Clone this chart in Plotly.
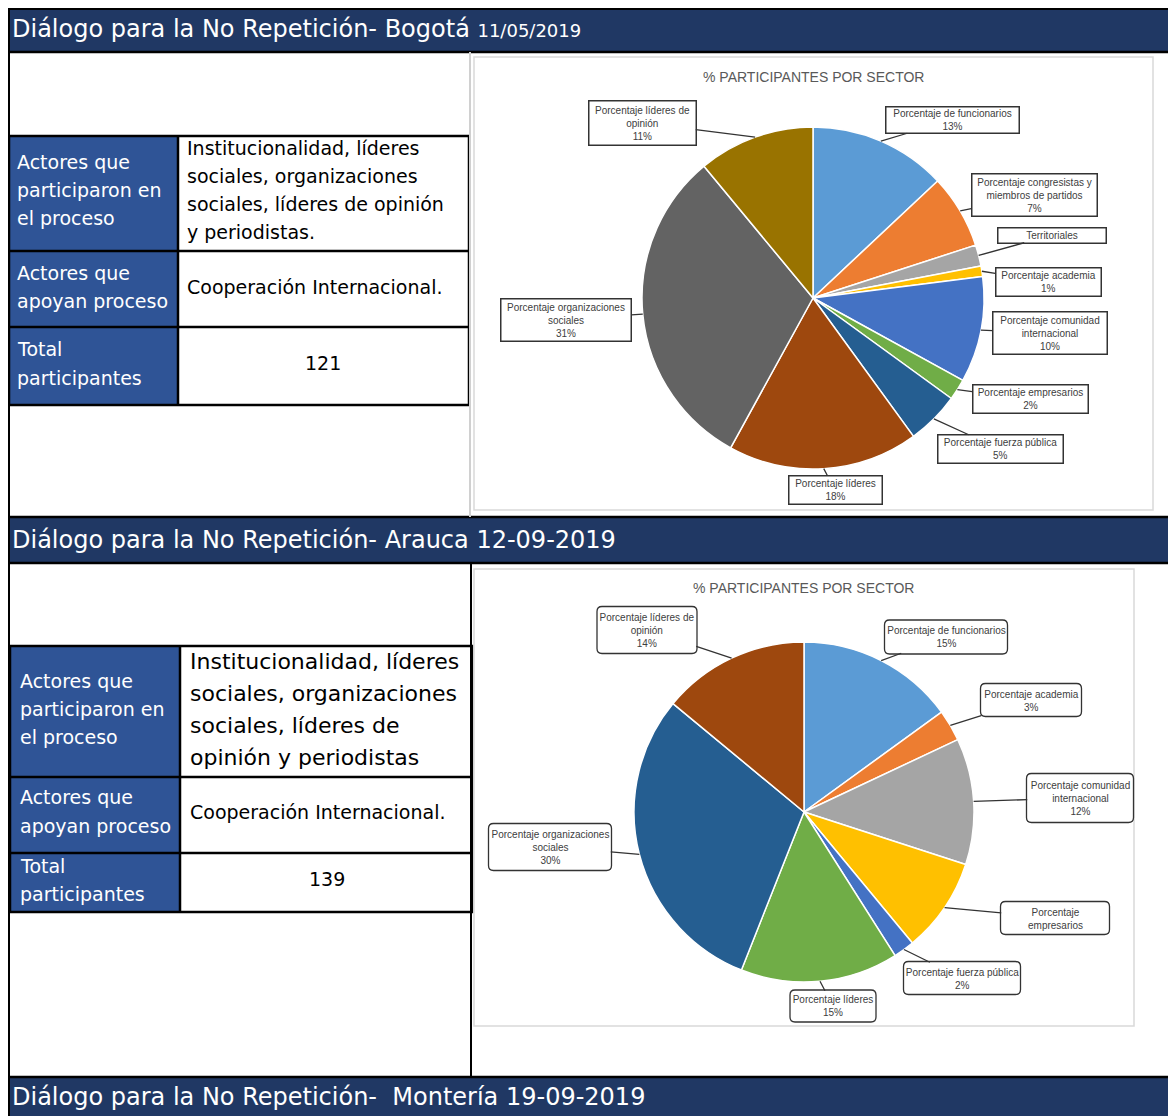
import numpy as np
import plotly.graph_objects as go

W, H = 1176, 1116
OFF = 8  # the page body margin; coordinates below are page pixels
FW, FH = W - OFF, H - OFF

# ---------------- data ----------------
headers = [
    "Diálogo para la No Repetición- Bogotá <span style='font-size:18px'>11/05/2019</span>",
    "Diálogo para la No Repetición- Arauca 12-09-2019",
    "Diálogo para la No Repetición-  Montería 19-09-2019",
]

row_titles = [["Actores que", "participaron en", "el proceso"],
              ["Actores que", "apoyan proceso"],
              ["Total", "participantes"]]
bog_actores = ["Institucionalidad, líderes", "sociales, organizaciones",
               "sociales, líderes de opinión", "y periodistas."]
ara_actores = ["Institucionalidad, líderes", "sociales, organizaciones",
               "sociales, líderes de", "opinión y periodistas"]
apoyo = "Cooperación Internacional."
bog_total = 121
ara_total = 139

chart_title = "% PARTICIPANTES POR SECTOR"

bog_labels = ["Porcentaje de funcionarios", "Porcentaje congresistas y<br>miembros de partidos",
              "Territoriales", "Porcentaje academia", "Porcentaje comunidad<br>internacional",
              "Porcentaje empresarios", "Porcentaje fuerza pública", "Porcentaje líderes",
              "Porcentaje organizaciones<br>sociales", "Porcentaje líderes de<br>opinión"]
bog_values = [13, 7, 2, 1, 10, 2, 5, 18, 31, 11]
bog_show_pct = [True, True, False, True, True, True, True, True, True, True]
bog_colors = ["#5B9BD5", "#ED7D31", "#A5A5A5", "#FFC000", "#4472C4",
              "#70AD47", "#255E91", "#9E480E", "#636363", "#997300"]

ara_labels = ["Porcentaje de funcionarios", "Porcentaje academia",
              "Porcentaje comunidad<br>internacional", "Porcentaje<br>empresarios",
              "Porcentaje fuerza pública", "Porcentaje líderes",
              "Porcentaje organizaciones<br>sociales", "Porcentaje líderes de<br>opinión"]
ara_values = [15, 3, 12, 9, 2, 15, 30, 14]
ara_show_pct = [True, True, True, False, True, True, True, True]
ara_colors = ["#5B9BD5", "#ED7D31", "#A5A5A5", "#FFC000", "#4472C4",
              "#70AD47", "#255E91", "#9E480E"]

# ---------------- layout constants (pixels) ----------------
NAVY = "#203864"
BLUE = "#2F5496"
TABLE_FONT = "DejaVu Sans, Verdana, sans-serif"
CHART_FONT = "Liberation Sans, Arial, sans-serif"

# callout boxes: center x, center y, width, height
bog_boxes = [(952, 120, 135, 28), (1034, 195, 127, 44), (1052, 235, 110, 17),
             (1048, 282, 107, 30), (1050, 333, 116, 44), (1030, 399, 117, 30),
             (1000, 449, 127, 30), (835, 490, 95, 30), (566, 320, 132, 44),
             (642, 123, 109, 46)]
ara_boxes = [(946, 637, 123, 34), (1031, 700, 101, 33), (1080, 798, 107, 49),
             (1055, 918, 109, 33), (962, 978, 117, 33), (833, 1006, 86, 32),
             (550, 847, 123, 47), (647, 630, 100, 47)]

fig = go.Figure()

# invisible trace so the pixel-space cartesian axes exist
fig.add_trace(go.Scatter(x=[], y=[], showlegend=False, hoverinfo="skip"))


def add_pie(values, colors, cx, cy, r):
    fig.add_trace(go.Pie(
        values=values, sort=False, direction="clockwise", rotation=0,
        marker=dict(colors=colors, line=dict(color="white", width=1.5)),
        textinfo="none", hoverinfo="skip", showlegend=False,
        domain=dict(x=[(cx - r - OFF) / FW, (cx + r - OFF) / FW],
                    y=[1 - (cy + r - OFF) / FH, 1 - (cy - r - OFF) / FH]),
    ))


def add_callouts(labels, values, show_pct, boxes, cx, cy, r, rounded):
    v = np.array(values, float)
    theta = (np.cumsum(v) - v / 2) / v.sum() * 2 * np.pi
    xs = cx + r * np.sin(theta)
    ys = cy - r * np.cos(theta)
    for lab, val, sp, (bx, by, bw, bh), x0, y0 in zip(labels, values, show_pct, boxes, xs, ys):
        txt = f"{lab}<br>{val}%" if sp else lab
        if rounded:
            x1, y1, x2, y2, k = bx - bw / 2, by - bh / 2, bx + bw / 2, by + bh / 2, 5
            fig.add_shape(type="path", xref="x", yref="y", fillcolor="white",
                          line=dict(color="#333333", width=1.3),
                          path=(f"M {x1+k},{y1} L {x2-k},{y1} Q {x2},{y1} {x2},{y1+k} "
                                f"L {x2},{y2-k} Q {x2},{y2} {x2-k},{y2} L {x1+k},{y2} "
                                f"Q {x1},{y2} {x1},{y2-k} L {x1},{y1+k} Q {x1},{y1} {x1+k},{y1} Z"))
        fig.add_annotation(
            x=x0, y=y0, xref="x", yref="y", ax=bx, ay=by, axref="x", ayref="y",
            text=txt, showarrow=True, arrowhead=0, arrowwidth=1.3, arrowcolor="#333333",
            width=bw - 3, height=bh - 3, borderpad=0,
            bgcolor="rgba(0,0,0,0)" if rounded else "white",
            bordercolor="rgba(0,0,0,0)" if rounded else "#333333", borderwidth=1.5,
            font=dict(family=CHART_FONT, size=10, color="#404040"),
        )


def rect(x0, y0, x1, y1, fill=None, color=None, width=0):
    fig.add_shape(type="rect", xref="x", yref="y", x0=x0, y0=y0, x1=x1, y1=y1,
                  fillcolor=fill or "rgba(0,0,0,0)", layer="below",
                  line=dict(color=color or "rgba(0,0,0,0)", width=width))


def line(x0, y0, x1, y1, color="black", width=2):
    fig.add_shape(type="line", xref="x", yref="y", x0=x0, y0=y0, x1=x1, y1=y1,
                  line=dict(color=color, width=width))


def text(x, y, s, size=19, color="black", xanchor="left", family=TABLE_FONT):
    fig.add_annotation(x=x, y=y, xref="x", yref="y", text=s, showarrow=False,
                       xanchor=xanchor, yanchor="middle",
                       font=dict(family=family, size=size, color=color))


# ---------------- header bands ----------------
for (y0, y1, ty), h in zip([(9, 51, 29), (518, 562, 540), (1078, 1116, 1097)], headers):
    rect(9, y0, W, y1, fill=NAVY)
    text(10, ty, h, size=24, color="white")
line(OFF, OFF + 1, W, OFF + 1)
line(OFF + 1, OFF, OFF + 1, H)
for yy in (52, 517, 563, 1077):
    line(OFF, yy, W, yy, width=2.5)
line(470, 52, 470, 517, color="#d0d0d0", width=2)
line(471, 563, 471, 1077, color="black", width=2)


# ---------------- tables ----------------
def table(x0, xm, x1, rows, actores, act_size, act_dy, act_y0, left_x, left_ys, right_x,
          apoyo_y, total, total_x, total_y):
    for (ya, yb) in zip(rows[:-1], rows[1:]):
        rect(x0, ya, xm, yb, fill=BLUE)
    rect(x0, rows[0], x1, rows[-1], color="black", width=2.5)
    for yy in rows[1:-1]:
        line(x0, yy, x1, yy, width=2.5)
    line(xm, rows[0], xm, rows[-1], width=2.5)
    k = 0
    for grp in row_titles:
        for s in grp:
            text(left_x, left_ys[k], s, color="white")
            k += 1
    for i, s in enumerate(actores):
        text(right_x, act_y0 + i * act_dy, s, size=act_size)
    text(right_x, apoyo_y, apoyo)
    text(total_x, total_y, str(total), xanchor="center")


table(9, 178, 469, [136, 251, 327, 405], bog_actores, 19, 28, 148, 15,
      [162, 190, 218, 273, 301, 349, 378], 185, 287, bog_total, 323, 363)
table(10, 180, 472, [646, 777, 853, 912], ara_actores, 22, 32, 661, 18,
      [681, 709, 737, 797, 826, 866, 894], 188, 812, ara_total, 327, 879)

# ---------------- charts ----------------
rect(474, 57, 1153, 510, color="#d9d9d9", width=1.5)
rect(474, 569, 1134, 1026, color="#d9d9d9", width=1.5)
text(813, 77, chart_title, size=14, color="#595959", xanchor="center", family=CHART_FONT)
text(803, 588, chart_title, size=14, color="#595959", xanchor="center", family=CHART_FONT)

add_pie(bog_values, bog_colors, 813, 298, 171)
add_pie(ara_values, ara_colors, 804, 812, 170)
add_callouts(bog_labels, bog_values, bog_show_pct, bog_boxes, 813, 298, 171, False)
add_callouts(ara_labels, ara_values, ara_show_pct, ara_boxes, 804, 812, 170, True)

fig.update_layout(
    width=FW, height=FH, margin=dict(l=0, r=0, t=0, b=0),
    paper_bgcolor="white", plot_bgcolor="white", showlegend=False,
    xaxis=dict(range=[OFF, W], visible=False, fixedrange=True, domain=[0, 1]),
    yaxis=dict(range=[H, OFF], visible=False, fixedrange=True, domain=[0, 1]),
)

fig.write_html("out.html")
